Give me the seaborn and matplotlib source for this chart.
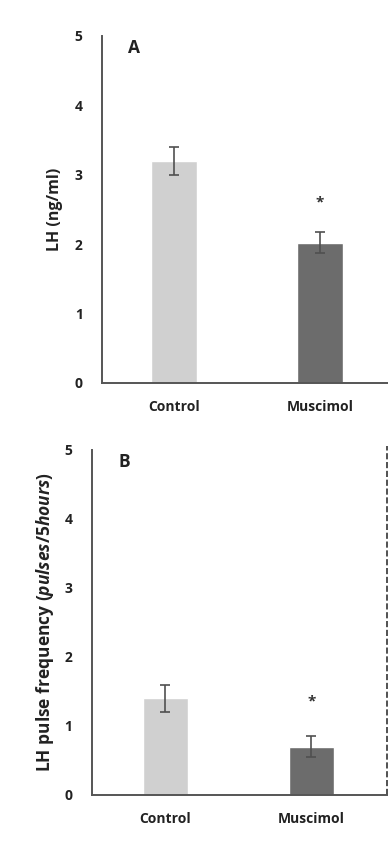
import matplotlib
matplotlib.use("Agg")
import matplotlib.pyplot as plt
import seaborn as sns

categories = ["Control", "Muscimol"]
lh_mean = [3.2, 2.02]
lh_err = [0.2, 0.15]
freq_mean = [1.4, 0.7]
freq_err = [0.2, 0.15]
bar_colors = ["#d0d0d0", "#6c6c6c"]

sns.set_style("white")
plt.rcParams["font.family"] = ["Open Sans", "DejaVu Sans"]
plt.rcParams["mathtext.fontset"] = "custom"
plt.rcParams["mathtext.it"] = "Open Sans:italic:bold"
plt.rcParams["mathtext.rm"] = "Open Sans:bold"

fig = plt.figure(figsize=(3.88, 8.41), dpi=100)
axA = fig.add_axes([0.263, 0.5446, 0.737, 0.4126])
axB = fig.add_axes([0.237, 0.0547, 0.763, 0.4103])


def panel(ax, means, errs, star_y, letter, xlim):
    sns.barplot(x=categories, y=means, hue=categories, palette=bar_colors,
                width=0.31, legend=False, ax=ax, saturation=1)
    ax.errorbar(range(len(means)), means, yerr=errs, fmt="none",
                ecolor="#505050", elinewidth=1.2, capsize=3.5, capthick=1.2)
    ax.text(1, star_y, "*", ha="center", va="center", fontsize=11,
            fontweight="bold", color="#333333")
    ax.text(0.09, 0.99, letter, transform=ax.transAxes, fontsize=12.5,
            fontweight="bold", color="#222222", va="top")
    ax.set_ylim(0, 5)
    ax.set_xlim(*xlim)
    ax.set_yticks([0, 1, 2, 3, 4, 5])
    for side in ["top", "right"]:
        ax.spines[side].set_visible(False)
    for side in ["left", "bottom"]:
        ax.spines[side].set_color("#555555")
        ax.spines[side].set_linewidth(1.4)
    ax.tick_params(axis="both", length=0, labelsize=10, colors="#222222")
    ax.tick_params(axis="y", pad=14)
    ax.tick_params(axis="x", pad=12)
    for lab in ax.get_xticklabels() + ax.get_yticklabels():
        lab.set_fontweight("bold")


panel(axA, lh_mean, lh_err, 2.6, "A", (-0.493, 1.466))
axA.set_ylabel("LH (ng/ml)", fontsize=11.5, fontweight="bold", color="#222222",
               labelpad=8)

panel(axB, freq_mean, freq_err, 1.35, "B", (-0.503, 1.524))
axB.set_ylabel("LH pulse frequency ($\\it{pulses/5hours}$)", fontsize=12.5,
               fontweight="bold", color="#222222", labelpad=6)
axB.axvline(1.52, ymin=0.0, ymax=1.01, color="#333333", linestyle="--",
            linewidth=1.2, clip_on=False)

fig.savefig("out.png", dpi=100)
